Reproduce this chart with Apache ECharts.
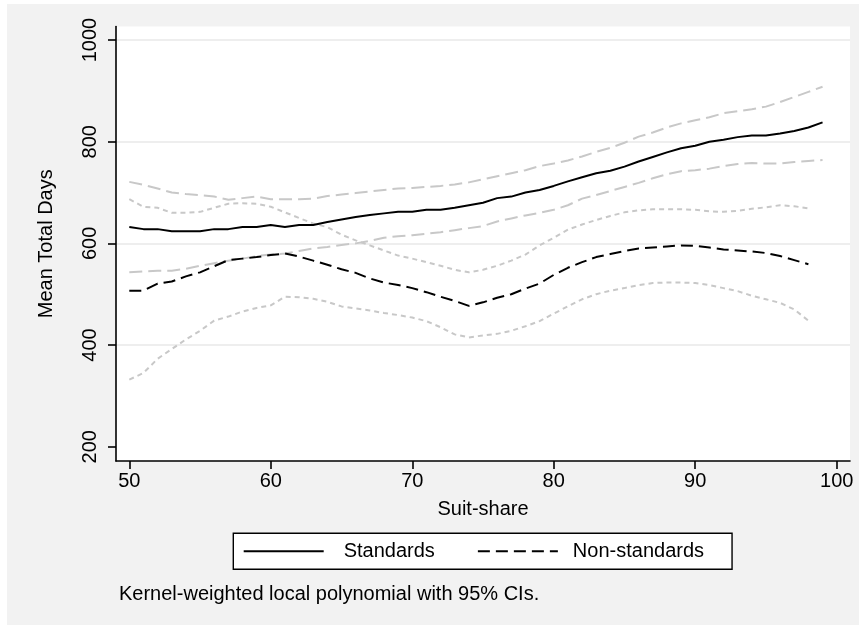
<!DOCTYPE html>
<html><head><meta charset="utf-8">
<script src="https://cdn.jsdelivr.net/npm/echarts@6/dist/echarts.min.js"></script>
<style>html,body{margin:0;padding:0;background:#fff}#c{width:859px;height:626px}</style>
</head><body><div id="c"></div><script>
const xStd = [50,51,52,53,54,55,56,57,58,59,60,61,62,63,64,65,66,67,68,69,70,71,72,73,74,75,76,77,78,79,80,81,82,83,84,85,86,87,88,89,90,91,92,93,94,95,96,97,98,99];
const standards = [632,628,628,624,624,624,628,628,632,632,636,632,636,636,642,647,652,656,659,662,662,666,666,670,675,680,689,692,700,705,713,722,730,738,743,751,761,770,779,787,792,800,804,809,812,812,816,821,828,838];
const stdUpper = [721,715,708,700,697,695,692,686,689,692,687,687,687,688,693,696,699,702,705,708,709,711,713,716,720,726,732,738,744,752,757,763,771,780,788,798,810,818,828,836,842,848,856,860,864,869,878,888,898,908];
const stdLower = [543,545,546,546,550,556,561,566,570,575,578,580,585,590,593,597,600,605,611,614,616,619,622,626,630,634,643,649,655,660,666,675,688,695,703,711,719,728,736,742,744,747,752,756,758,757,757,760,762,764];
const xNon = [50,51,52,53,54,55,56,57,58,59,60,61,62,63,64,65,66,67,68,69,70,71,72,73,74,75,76,77,78,79,80,81,82,83,84,85,86,87,88,89,90,91,92,93,94,95,96,97,98];
const nonStandards = [507,507,521,525,535,543,555,567,570,573,577,580,574,566,558,549,542,531,523,518,512,504,495,487,477,484,493,500,511,521,538,552,563,573,579,585,590,592,594,596,595,592,588,586,584,581,575,567,559];
const nonUpper = [687,672,670,660,660,662,670,678,679,678,672,661,650,639,632,617,606,596,586,576,570,563,556,548,543,548,556,566,578,596,611,627,637,646,654,661,665,667,667,667,666,663,662,664,668,671,675,673,669];
const nonLower = [332,345,373,392,411,428,448,456,466,473,478,495,494,491,485,476,472,468,463,459,454,447,435,421,415,419,422,428,437,447,462,476,490,500,507,512,518,522,523,523,522,518,512,506,497,490,483,470,448];
const xTicks = [50,60,70,80,90,100];
const yTicks = [200,400,600,800,1000];
const yGridTicks = [400,600,800,1000];

const FONT = "'Liberation Sans', Arial, Helvetica, sans-serif";
function pairs(xs, ys){ return xs.map((x,i)=>[x,ys[i]]); }
const chart = echarts.init(document.getElementById('c'), null, {renderer:'canvas'});
const grey = '#c8c8c8';
function ln(name, xs, ys, color, type, z){
  return {name, type:'line', data:pairs(xs,ys), symbol:'none', showSymbol:false, animation:false, silent:true, z,
    lineStyle:{color, width:2, type}, itemStyle:{color}};
}
chart.setOption({
  animation:false,
  backgroundColor:'#fff',
  textStyle:{fontFamily:FONT},
  graphic:[{type:'rect', z:-10, silent:true, shape:{x:7,y:4,width:852,height:621}, style:{fill:'#f2f2f2'}}],
  grid:{left:116, top:26.5, right:9, bottom:165, show:true, backgroundColor:'#fff', borderWidth:0, containLabel:false},
  title:{text:'Kernel-weighted local polynomial with 95% CIs.', left:119, top:584,
    textStyle:{fontFamily:FONT, fontSize:20, fontWeight:'normal', color:'#000'}, padding:0},
  legend:{data:[{name:'Standards', textStyle:{padding:[0,0,0,15]}}, {name:'Non-standards', textStyle:{padding:[0,0,0,10]}}],
    left:233.3, top:533.3, orient:'horizontal',
    backgroundColor:'#fff', borderColor:'#000', borderWidth:1.4, borderRadius:0,
    padding:[8,28,8,9.4], itemWidth:80, itemHeight:20, itemGap:42,
    itemStyle:{color:'rgba(0,0,0,0)', borderWidth:0, opacity:0},
    textStyle:{fontFamily:FONT, fontSize:20, color:'#000'}},
  xAxis:{type:'value', min:49.06, max:100.94, name:'Suit-share', nameLocation:'middle', nameGap:38,
    nameTextStyle:{fontFamily:FONT, fontSize:20, color:'#000'},
    axisLine:{show:true, onZero:false, lineStyle:{color:'#000', width:1.6}},
    axisTick:{show:true, length:8, lineStyle:{color:'#000', width:1.6}, customValues:xTicks},
    axisLabel:{customValues:xTicks, fontFamily:FONT, fontSize:20, color:'#000', margin:10, formatter:v=>String(v)},
    splitLine:{show:false}},
  yAxis:[{type:'value', min:171.9, max:1026.6, name:'Mean Total Days', nameLocation:'middle', nameGap:60,
    nameTextStyle:{fontFamily:FONT, fontSize:20, color:'#000'},
    axisLine:{show:true, onZero:false, lineStyle:{color:'#000', width:1.6}},
    axisTick:{show:true, length:8, lineStyle:{color:'#000', width:1.6}, customValues:yTicks},
    axisLabel:{customValues:yTicks, rotate:90, fontFamily:FONT, fontSize:20, color:'#000', margin:16, formatter:v=>String(v)},
    splitLine:{show:false}},
   {type:'value', min:171.9, max:1026.6, position:'left',
    axisLine:{show:false}, axisLabel:{show:false},
    axisTick:{show:false, customValues:yGridTicks},
    splitLine:{show:true, lineStyle:{color:'#e8e8e8', width:1.5}}}],
  series:[
    ln('stdUpper', xStd, stdUpper, grey, [13,6], 2),
    ln('stdLower', xStd, stdLower, grey, [13,6], 2),
    ln('nonUpper', xNon, nonUpper, grey, [5,4], 2),
    ln('nonLower', xNon, nonLower, grey, [5,4], 2),
    ln('Standards', xStd, standards, '#000', 'solid', 3),
    ln('Non-standards', xNon, nonStandards, '#000', [12,6], 3)
  ]
});
</script></body></html>
